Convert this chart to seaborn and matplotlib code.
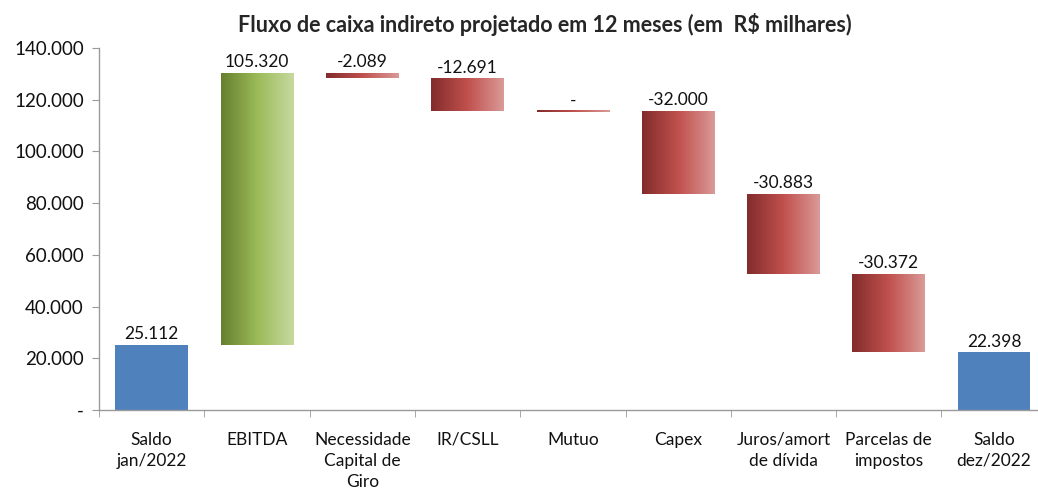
import numpy as np
import pandas as pd
import seaborn as sns
import matplotlib.pyplot as plt
from matplotlib.colors import LinearSegmentedColormap
from matplotlib.ticker import FuncFormatter

categorias = ["Saldo\njan/2022", "EBITDA", "Necessidade\nCapital de\nGiro", "IR/CSLL", "Mutuo",
              "Capex", "Juros/amort\nde dívida", "Parcelas de\nimpostos", "Saldo\ndez/2022"]
valores = [25112, 105320, -2089, -12691, 0, -32000, -30883, -30372, 22398]
tipo = ["total", "pos", "neg", "neg", "neg", "neg", "neg", "neg", "total"]


def fmt(v):
    if v == 0:
        return "-"
    return f"{v:,.0f}".replace(",", ".")


# bases do waterfall
bases = []
acum = 0
for v, t in zip(valores, tipo):
    if t == "total":
        bases.append(0)
        acum = v
    else:
        if v >= 0:
            bases.append(acum)
        else:
            bases.append(acum + v)
        acum += v

tab = pd.DataFrame({"cat": categorias, "alt": np.abs(valores), "base": bases, "tipo": tipo})

sns.set_style("white")
plt.rcParams["font.family"] = ["Lato", "DejaVu Sans"]

fig = plt.figure(figsize=(10.38, 4.95), dpi=100)
ax = fig.add_axes([0.0954, 0.1717, 0.913, 0.7313])

sns.barplot(data=tab, x="cat", y="alt", color="#4F81BD", width=0.69, ax=ax, saturation=1)

verde = LinearSegmentedColormap.from_list("v", ["#667F2E", "#9BBB59", "#C6D9A0"])
verm = LinearSegmentedColormap.from_list("r", ["#822C2C", "#C0504D", "#DA9A98"])
grad = np.linspace(0, 1, 256).reshape(1, -1)

for i, p in enumerate(ax.patches):
    b = tab["base"][i]
    h = tab["alt"][i]
    t = tab["tipo"][i]
    p.set_y(b)
    p.set_linewidth(0)
    if t != "total":
        x0 = p.get_x()
        w = p.get_width()
        cm = verde if t == "pos" else verm
        if h == 0:
            p.set_height(500)
            p.set_y(b - 250)
            h2 = 500
            b2 = b - 250
        else:
            h2 = h
            b2 = b
        p.set_facecolor("none")
        im = ax.imshow(grad, cmap=cm, aspect="auto", extent=[x0, x0 + w, b2, b2 + h2],
                       interpolation="bicubic", zorder=2)
        im.set_clip_path(p)
    topo = b + h
    ax.text(i, topo + 1000, fmt(valores[i]), ha="center", va="bottom", fontsize=12.5, color="#111111")

ax.set_xlim(-0.5, 8.5)
ax.set_ylim(0, 140000)
ax.set_yticks(np.arange(0, 140001, 20000))
ax.yaxis.set_major_formatter(FuncFormatter(lambda v, pos: fmt(v)))
ax.set_xlabel("")
ax.set_ylabel("")

for s in ["top", "right"]:
    ax.spines[s].set_visible(False)
for s in ["left", "bottom"]:
    ax.spines[s].set_color("#9A9A9A")
    ax.spines[s].set_linewidth(1)

ax.tick_params(axis="y", which="major", left=True, length=5, color="#9A9A9A", labelsize=13.5,
               labelcolor="#111111", pad=6)
ax.set_xticks(range(len(categorias)), categorias, linespacing=1.42)
ax.tick_params(axis="x", which="major", bottom=False, labelsize=12.5, labelcolor="#111111", pad=12)
ax.set_xticks(np.arange(-0.5, 8.6, 1), minor=True)
ax.tick_params(axis="x", which="minor", bottom=True, length=5, color="#9A9A9A")

ax.set_title("Fluxo de caixa indireto projetado em 12 meses (em  R$ milhares)",
             fontsize=15.5, fontweight="bold", x=0.47, y=1.02)

fig.savefig("out.png", dpi=100)
